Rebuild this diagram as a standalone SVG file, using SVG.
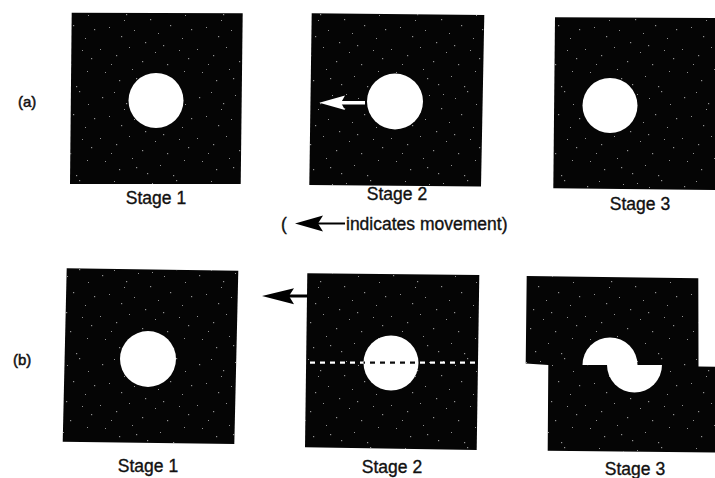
<svg xmlns="http://www.w3.org/2000/svg" width="715" height="478" viewBox="0 0 715 478">
  <style>
    .plate { fill: #050505; }
    .grain { fill: url(#speckle); }
    .hole { fill: #ffffff; }
    .label { font-family: "Liberation Sans", Arial, sans-serif; font-size: 17.5px; fill: #111; stroke: #111; stroke-width: 0.35; }
    .tag { font-family: "Liberation Sans", Arial, sans-serif; font-size: 15px; fill: #111; stroke: #111; stroke-width: 0.5; }
    .white-arrow { fill: #ffffff; }
    .black-arrow { fill: #000000; }
    .cut { fill: none; stroke-width: 2.2; stroke-dasharray: 5 5; }
  </style>
  <defs>
    <!-- sparse light specks scattered over the dark plates -->
    <pattern id="speckle" patternUnits="userSpaceOnUse" width="97" height="89">
      <g fill="#cfcfcf" opacity="0.7">
        <rect x="5" y="8" width="1.2" height="1.2"/>
        <rect x="17" y="3" width="1" height="1"/>
        <rect x="29" y="14" width="1.2" height="1.2"/>
        <rect x="41" y="6" width="1" height="1"/>
        <rect x="53" y="19" width="1.2" height="1.2"/>
        <rect x="67" y="9" width="1" height="1"/>
        <rect x="79" y="2" width="1.2" height="1.2"/>
        <rect x="88" y="15" width="1" height="1"/>
        <rect x="12" y="27" width="1" height="1"/>
        <rect x="24" y="36" width="1.2" height="1.2"/>
        <rect x="37" y="30" width="1" height="1"/>
        <rect x="48" y="42" width="1.2" height="1.2"/>
        <rect x="61" y="33" width="1" height="1"/>
        <rect x="73" y="25" width="1.2" height="1.2"/>
        <rect x="85" y="38" width="1" height="1"/>
        <rect x="94" y="29" width="1.2" height="1.2"/>
        <rect x="3" y="49" width="1" height="1"/>
        <rect x="19" y="55" width="1.2" height="1.2"/>
        <rect x="32" y="47" width="1" height="1"/>
        <rect x="45" y="61" width="1.2" height="1.2"/>
        <rect x="58" y="52" width="1" height="1"/>
        <rect x="70" y="64" width="1.2" height="1.2"/>
        <rect x="82" y="50" width="1" height="1"/>
        <rect x="91" y="58" width="1.2" height="1.2"/>
        <rect x="8" y="72" width="1" height="1"/>
        <rect x="22" y="80" width="1.2" height="1.2"/>
        <rect x="35" y="69" width="1" height="1"/>
        <rect x="50" y="84" width="1.2" height="1.2"/>
        <rect x="63" y="76" width="1" height="1"/>
        <rect x="76" y="86" width="1.2" height="1.2"/>
        <rect x="87" y="71" width="1" height="1"/>
        <rect x="27" y="20" width="1" height="1"/>
        <rect x="66" y="45" width="1.2" height="1.2"/>
        <rect x="14" y="64" width="1" height="1"/>
        <rect x="55" y="5" width="1" height="1"/>
        <rect x="39" y="78" width="1.2" height="1.2"/>
      </g>
    </pattern>
    <clipPath id="b2-hole">
      <circle cx="391" cy="363" r="27.5"/>
    </clipPath>
  </defs>

  <rect width="715" height="478" fill="#ffffff"/>

  <!-- row labels -->
  <text class="tag" x="18" y="107">(a)</text>
  <text class="tag" x="13" y="365">(b)</text>

  <!-- row (a) -->
  <g id="a-stage1">
    <polygon class="plate" points="71.7,12.7 242.7,13.3 240.7,184 70,184"/>
    <polygon class="grain" points="71.7,12.7 242.7,13.3 240.7,184 70,184"/>
    <circle class="hole" cx="156" cy="100.5" r="27.5"/>
    <text class="label" x="156" y="204" text-anchor="middle">Stage 1</text>
  </g>

  <g id="a-stage2">
    <polygon class="plate" points="311.7,13.3 484.3,15 481,186.5 309.3,185"/>
    <polygon class="grain" points="311.7,13.3 484.3,15 481,186.5 309.3,185"/>
    <circle class="hole" cx="395" cy="101.5" r="28"/>
    <text class="label" x="397" y="200" text-anchor="middle">Stage 2</text>
  </g>

  <g id="a-stage3">
    <polygon class="plate" points="555,17.3 715,18 715,190 553.3,188.3"/>
    <polygon class="grain" points="555,17.3 715,18 715,190 553.3,188.3"/>
    <circle class="hole" cx="610" cy="105.5" r="27.5"/>
    <text class="label" x="640" y="210" text-anchor="middle">Stage 3</text>
  </g>

  <!-- legend -->
  <g id="legend">
    <text class="label" x="281" y="230">(</text>
    <polygon class="black-arrow" points="295,223.5 323,215.5 318,223.5 323,231.5"/>
    <rect class="black-arrow" x="318" y="222.5" width="27" height="2"/>
    <text class="label" x="346" y="230">indicates movement)</text>
  </g>

  <!-- row (b) -->
  <g id="b-stage1">
    <polygon class="plate" points="66.7,268.3 238.3,270.7 234.3,444 62.7,441.7"/>
    <polygon class="grain" points="66.7,268.3 238.3,270.7 234.3,444 62.7,441.7"/>
    <circle class="hole" cx="148" cy="359" r="28"/>
    <text class="label" x="148" y="472" text-anchor="middle">Stage 1</text>
  </g>

  <g id="b-stage2">
    <polygon class="plate" points="307.3,273.3 479.3,275 476.7,450 305,447.3"/>
    <polygon class="grain" points="307.3,273.3 479.3,275 476.7,450 305,447.3"/>
    <circle class="hole" cx="391" cy="363" r="27.5"/>
    <!-- cut line: light on the plate, dark across the hole -->
    <line class="cut" x1="310" y1="362.7" x2="475" y2="362.7" stroke="#ffffff"/>
    <line class="cut" x1="310" y1="362.7" x2="475" y2="362.7" stroke="#111111" clip-path="url(#b2-hole)"/>
    <text class="label" x="392" y="473" text-anchor="middle">Stage 2</text>
  </g>

  <g id="b-stage3">
    <path class="plate" d="M526.7,276 L698.3,278.3 L698.5,366.5 L715,366.8 L715,452.5 L547.7,450.7 L548.3,365 L525.7,363.5 Z"/>
    <path class="grain" d="M526.7,276 L698.3,278.3 L698.5,366.5 L715,366.8 L715,452.5 L547.7,450.7 L548.3,365 L525.7,363.5 Z"/>
    <path class="hole" d="M582.5,365 A27.5,27.5 0 0 1 637.5,365 Z"/>
    <path class="hole" d="M607,365 A27.5,27.5 0 0 0 662,365 Z"/>
    <text class="label" x="635" y="475" text-anchor="middle">Stage 3</text>
  </g>

  <!-- movement arrows -->
  <g id="connectors">
    <polygon class="white-arrow" points="319.3,102.7 345,95.5 341,102.7 345,110"/>
    <rect class="white-arrow" x="340" y="101" width="25" height="3.5"/>
    <polygon class="black-arrow" points="262,296 294,288.3 289,296 294,304.3"/>
    <rect class="black-arrow" x="289" y="294.5" width="19" height="3"/>
  </g>
</svg>
